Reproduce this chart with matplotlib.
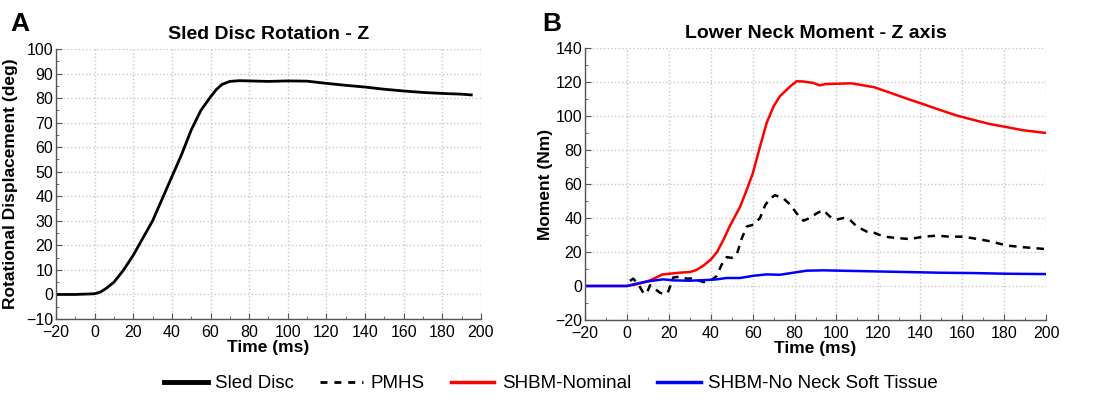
import numpy as np
import matplotlib
matplotlib.use("Agg")
import matplotlib.pyplot as plt
from matplotlib.lines import Line2D
from matplotlib.ticker import MultipleLocator

plt.rcParams['font.family'] = ['Liberation Sans', 'DejaVu Sans']

# Panel A: sled disc rotation (deg)
t_sled = [-20, -10, 0, 3, 6, 10, 15, 20, 25, 30, 35, 40, 45, 50, 55, 60, 63, 66,
          70, 75, 80, 90, 100, 110, 120, 130, 140, 150, 160, 170, 180, 190, 195]
sled = [0, 0, 0.3, 1, 2.5, 5, 10, 16, 23, 30, 39, 48, 57, 67, 75, 80.5, 83.5, 85.6,
        86.8, 87.1, 87, 86.8, 87, 86.9, 86, 85.2, 84.5, 83.6, 82.9, 82.3, 81.9, 81.6, 81.3]

# Panel B: lower neck moment (Nm)
t_nom = [-20, 0, 3, 6, 11, 17, 22, 25, 30, 33, 36.5, 40, 43, 46, 49, 54, 57, 60,
         63.5, 66.7, 70, 73, 78, 81, 84, 89, 92, 95, 102, 107, 111, 118, 126, 134,
         142, 149, 157, 165, 173, 181, 189, 200]
nominal = [0, 0, 0.6, 1.4, 3.3, 6.8, 7.4, 7.8, 8.2, 9.3, 12, 15.5, 20, 27, 35, 46.6,
           56, 66, 82, 96, 105.7, 111.6, 117.5, 120.4, 120.3, 119.4, 118, 118.8, 119,
           119.2, 118.4, 116.9, 113.5, 110, 106.7, 103.7, 100.4, 97.8, 95.3, 93.5, 91.6, 90]

t_pmhs = [1.4, 3, 5.4, 7.8, 9.4, 11, 12.6, 15.8, 18.2, 19.8, 22.1, 25.3, 28.5, 31.7,
          34, 36.5, 39.7, 42.8, 45.2, 47.6, 50, 52.4, 54.8, 57.2, 60.3, 63.5, 66, 68.3,
          70.7, 74.7, 77.8, 81, 84.2, 87.4, 90.5, 93.7, 96.9, 100, 103.3, 106.5, 109.7,
          114.4, 117.6, 122.4, 128.7, 135, 141.5, 147.8, 154, 160.5, 167, 173.3, 181.2,
          189.2, 200]
pmhs = [3, 4.3, 1, -4, -4.5, 0.4, -1, -4, -5, -3, 5, 5.5, 4.3, 4.5, 3.3, 2.3, 3, 5.8,
        12.6, 17, 16.5, 18.5, 28, 35, 36, 40, 47.6, 51.5, 53.4, 51.5, 48, 42.7, 38.4,
        40, 42.7, 44.6, 40.8, 39, 40, 38.8, 35, 32, 31.5, 29.1, 28.2, 27.6, 29, 29.6,
        29, 29, 27.7, 26.3, 23.8, 22.8, 21.7]

t_nosoft = [-20, 0, 4.6, 11, 17.3, 22, 30, 38, 42.8, 47.6, 54, 60.3, 66.7, 73, 79.4,
            85.8, 93.7, 101.7, 117.6, 133.5, 149.4, 165.3, 181.2, 200]
no_soft = [0, 0, 1.4, 2.9, 3.9, 3.3, 3.1, 3.5, 3.9, 4.7, 4.7, 6, 6.8, 6.6, 7.8, 9,
           9.2, 9, 8.6, 8.2, 7.8, 7.6, 7.2, 7]

fig = plt.figure(figsize=(11.18, 4.03), dpi=100)
axA = fig.add_axes([0.0501, 0.2084, 0.3801, 0.670])
axB = fig.add_axes([0.5233, 0.2060, 0.4123, 0.675])


def style(ax, ymin, ymax, ystep, yminor):
    ax.set_xlim(-20, 200)
    ax.set_ylim(ymin, ymax)
    ax.xaxis.set_major_locator(MultipleLocator(20))
    ax.xaxis.set_minor_locator(MultipleLocator(10))
    ax.yaxis.set_major_locator(MultipleLocator(ystep))
    ax.yaxis.set_minor_locator(MultipleLocator(yminor))
    ax.grid(True, which='major', color='#c8c8c8', linestyle=':', linewidth=1.0)
    ax.set_axisbelow(True)
    for s in ['top', 'right']:
        ax.spines[s].set_visible(False)
    for s in ['left', 'bottom']:
        ax.spines[s].set_color('#555555')
        ax.spines[s].set_linewidth(1.0)
    ax.tick_params(which='both', direction='in', color='#555555', labelsize=11.5)
    ax.tick_params(axis='y', pad=2)
    ax.tick_params(axis='x', pad=4)
    ax.tick_params(which='major', length=4)
    ax.tick_params(which='minor', length=2.5)
    ax.set_xlabel('Time (ms)', fontsize=12.5, fontweight='bold', labelpad=0)


axA.plot(t_sled, sled, color='black', linewidth=2.0)
style(axA, -10, 100, 10, 5)
axA.set_ylabel('Rotational Displacement (deg)', fontsize=12.5, fontweight='bold')
axA.yaxis.set_label_coords(-0.089, 0.5)
axA.set_title('Sled Disc Rotation - Z', fontsize=14, fontweight='bold', pad=7)

axB.plot(t_nom, nominal, color='#ff0000', linewidth=1.8)
axB.plot(t_pmhs, pmhs, color='black', linestyle=(0, (3, 2.5)), linewidth=1.8)
axB.plot(t_nosoft, no_soft, color='#0000ff', linewidth=1.8)
style(axB, -20, 140, 20, 10)
axB.set_ylabel('Moment (Nm)', fontsize=12.5, fontweight='bold')
axB.yaxis.set_label_coords(-0.069, 0.5)
axB.set_title('Lower Neck Moment - Z axis', fontsize=14, fontweight='bold', pad=7)

fig.text(0.009, 0.94, 'A', fontsize=19, fontweight='bold', va='center')
fig.text(0.485, 0.94, 'B', fontsize=19, fontweight='bold', va='center')

handles = [
    Line2D([], [], color='black', linewidth=3.5),
    Line2D([], [], color='black', linestyle=(0, (2.5, 2.5)), linewidth=2),
    Line2D([], [], color='#ff0000', linewidth=2.5),
    Line2D([], [], color='#0000ff', linewidth=2.5),
]
labels = ['Sled Disc', 'PMHS', 'SHBM-Nominal', 'SHBM-No Neck Soft Tissue']
fig.legend(handles, labels, loc='center', bbox_to_anchor=(0.493, 0.048), ncol=4,
           frameon=False, fontsize=13.5, handlelength=2.3, handletextpad=0.4,
           columnspacing=1.4)

fig.savefig('out.png', dpi=100)
